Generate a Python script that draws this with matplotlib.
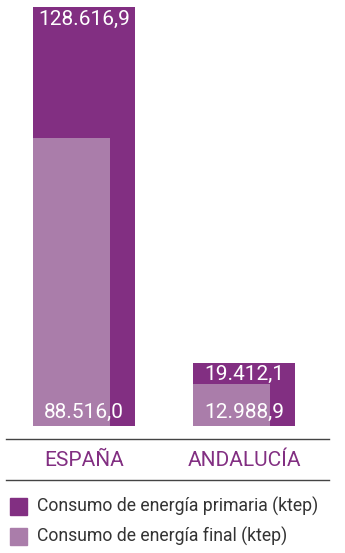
import matplotlib.pyplot as plt
from matplotlib.lines import Line2D
from matplotlib.patches import Rectangle

plt.rcParams["font.family"] = ["Roboto", "DejaVu Sans"]

regions = ["ESPAÑA", "ANDALUCÍA"]
primary = [128616.9, 19412.1]
final = [88516.0, 12988.9]
series_names = [
    "Consumo de energía primaria (ktep)",
    "Consumo de energía final (ktep)",
]

PRIMARY_COLOR = "#822F82"
FINAL_COLOR = "#AA7DAA"
TEXT_COLOR = "#333333"


def fmt(value):
    # spanish style: dot for thousands, comma for decimals
    s = f"{value:,.1f}"
    return s.replace(",", "X").replace(".", ",").replace("X", ".")


fig = plt.figure(figsize=(3.45, 5.53), dpi=100)
W, H = 345, 553


def fy(py):
    return (H - py) / H


ax = fig.add_axes([0, fy(426), 1, fy(7) - fy(426)])
ax.set_xlim(-84 / 160, (345 - 84) / 160)
ax.set_ylim(0, max(primary))
ax.axis("off")

w_primary = 102 / 160
w_final = 77 / 160
positions = range(len(regions))

for i in positions:
    left = i - w_primary / 2
    ax.bar(left, primary[i], width=w_primary, align="edge", color=PRIMARY_COLOR)
    ax.bar(left, final[i], width=w_final, align="edge", color=FINAL_COLOR)

    ax.annotate(
        fmt(primary[i]), xy=(i, primary[i]), xytext=(0, -12),
        textcoords="offset pixels", ha="center", va="center",
        color="white", fontsize=15,
    )
    ax.annotate(
        fmt(final[i]), xy=(i, 0), xytext=(0, 14),
        textcoords="offset pixels", ha="center", va="center",
        color="white", fontsize=15,
    )

# separator lines and category labels
for py in (439, 480):
    fig.add_artist(Line2D([6 / W, 329 / W], [fy(py), fy(py)],
                          color="#444444", linewidth=1.0))

for i, name in enumerate(regions):
    x_px = 84 + 160 * i
    fig.text(x_px / W, fy(461), name, ha="center", va="center",
             color=PRIMARY_COLOR, fontsize=15)

# legend
for j, (label, color) in enumerate(zip(series_names, [PRIMARY_COLOR, FINAL_COLOR])):
    top = 498 + 30 * j
    fig.add_artist(Rectangle((10 / W, fy(top + 17)), 17 / W, 17 / H,
                             color=color, transform=fig.transFigure))
    fig.text(37 / W, fy(top + 8.5), label, ha="left", va="center",
             color=TEXT_COLOR, fontsize=12.7)

fig.savefig("out.png", dpi=100)
